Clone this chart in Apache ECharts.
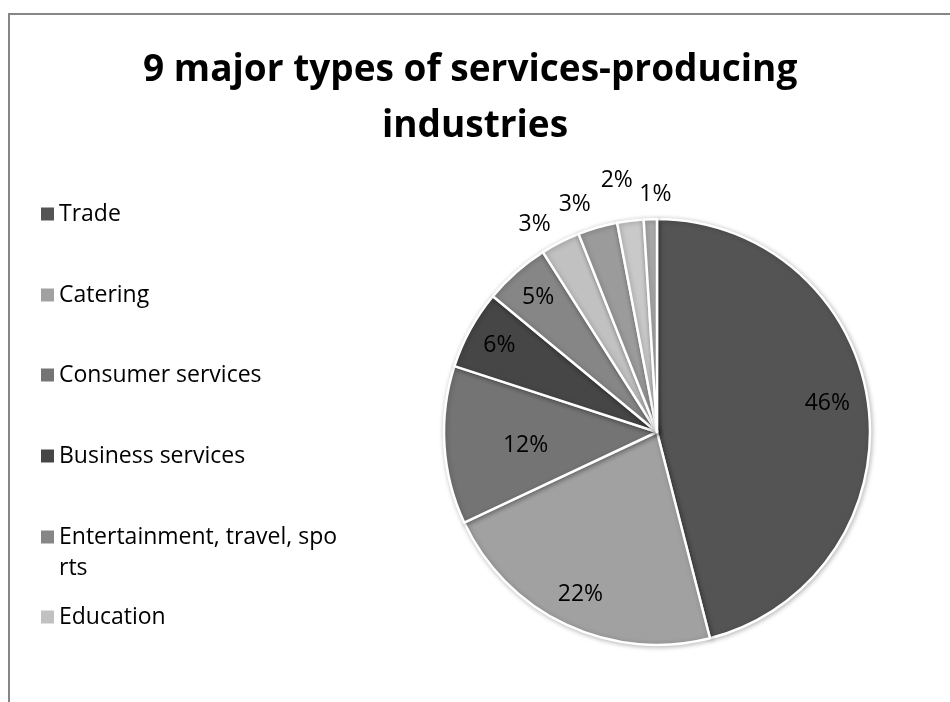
<!DOCTYPE html>
<html>
<head>
<meta charset="utf-8">
<script src="https://cdn.jsdelivr.net/npm/echarts@6/dist/echarts.min.js"></script>
<style>
  html, body { margin: 0; padding: 0; background: #fff; }
  #chart { width: 950px; height: 702px; }
</style>
</head>
<body>
<div id="chart"></div>
<script>
// Service industry categories and their shares (percent)
const categories = [
  'Trade',
  'Catering',
  'Consumer services',
  'Business services',
  'Entertainment, travel, sports',
  'Education',
  'Health care',
  'Transportation',
  'Other services'
];
const shares = [46, 22, 12, 6, 5, 3, 3, 2, 1];
const sliceColors = ['#545454', '#a1a1a1', '#747474', '#464646', '#868686', '#c1c1c1', '#9b9b9b', '#c9c9c9', '#a9a9a9'];
const titleText = '9 major types of services-producing industries';
// Only the first six categories appear in the legend column
const legendCount = 6;

const FONT = '"Open Sans", "Noto Sans", sans-serif';
const CENTER = [657, 432];
const R = 213;

// Small nudges for individual value labels (layout only)
const labelNudge = {
  'Trade': [-8, -6],
  'Consumer services': [48, 2],
  'Education': [-13, 7],
  'Health care': [-15, 4],
  'Transportation': [-10, -12],
  'Other services': [6, 3]
};

const pieData = categories.map((name, i) => ({
  name,
  value: shares[i],
  itemStyle: { color: sliceColors[i] }
}));

// Labels for larger slices sit inside the slice, small ones just outside the rim
function labelRing(radius, showFn) {
  return {
    type: 'pie',
    center: CENTER,
    radius: radius,
    startAngle: 90,
    clockwise: true,
    silent: true,
    animation: false,
    avoidLabelOverlap: false,
    labelLayout: { hideOverlap: false },
    emphasis: { disabled: true },
    labelLine: { show: false },
    itemStyle: { color: 'transparent', borderWidth: 0 },
    data: categories.map((name, i) => ({
      name,
      value: shares[i],
      label: {
        show: showFn(shares[i]),
        position: 'inside',
        formatter: '{c}%',
        color: '#000',
        fontFamily: FONT,
        fontSize: 23,
        offset: labelNudge[name] || [0, 0]
      }
    }))
  };
}

// Legend column: one block per entry so the rows keep an even rhythm
const legendRowCenters = [214, 295, 375, 456, 537, 617];
const LINE_H = 31;
const legends = categories.slice(0, legendCount).map((name, i) => {
  const twoLine = name === 'Entertainment, travel, sports';
  return {
    data: [name],
    orient: 'vertical',
    left: 41,
    // a wrapped entry carries a blank leading line so its first line stays beside the marker
    top: twoLine ? legendRowCenters[i] - 1.5 * LINE_H : legendRowCenters[i] - LINE_H / 2,
    icon: 'rect',
    itemWidth: 13,
    itemHeight: 13,
    padding: 0,
    selectedMode: false,
    itemStyle: { borderWidth: 0, shadowBlur: 0, shadowOffsetX: 0, shadowOffsetY: 0 },
    formatter: twoLine ? (n => '\n' + n) : (n => n),
    textStyle: {
      fontFamily: FONT,
      fontSize: 23,
      color: '#000',
      lineHeight: LINE_H,
      width: 283,
      overflow: 'breakAll'
    }
  };
});

const chart = echarts.init(document.getElementById('chart'), null, { renderer: 'canvas' });
chart.setOption({
  backgroundColor: '#fff',
  animation: false,
  title: {
    text: titleText,
    left: 'center',
    top: 37,
    textStyle: {
      fontFamily: FONT,
      fontWeight: 'bold',
      fontSize: 37,
      color: '#000',
      lineHeight: 56,
      width: 720,
      overflow: 'break'
    }
  },
  legend: legends,
  graphic: [{
    type: 'rect',
    silent: true,
    z: -1,
    shape: { x: 9, y: 14, width: 1100, height: 900 },
    style: { fill: 'none', stroke: '#868686', lineWidth: 2 }
  }],
  series: [
    {
      type: 'pie',
      center: CENTER,
      radius: R,
      startAngle: 90,
      clockwise: true,
      animation: false,
      emphasis: { disabled: true },
      label: { show: false },
      labelLine: { show: false },
      itemStyle: {
        borderColor: '#fff',
        borderWidth: 2.5,
        shadowBlur: 5,
        shadowColor: 'rgba(0,0,0,0.25)',
        shadowOffsetX: 1,
        shadowOffsetY: 1
      },
      data: pieData
    },
    labelRing([0.66 * R, R], v => v >= 5),
    labelRing([R, R + 50], v => v < 5)
  ]
});
</script>
</body>
</html>
